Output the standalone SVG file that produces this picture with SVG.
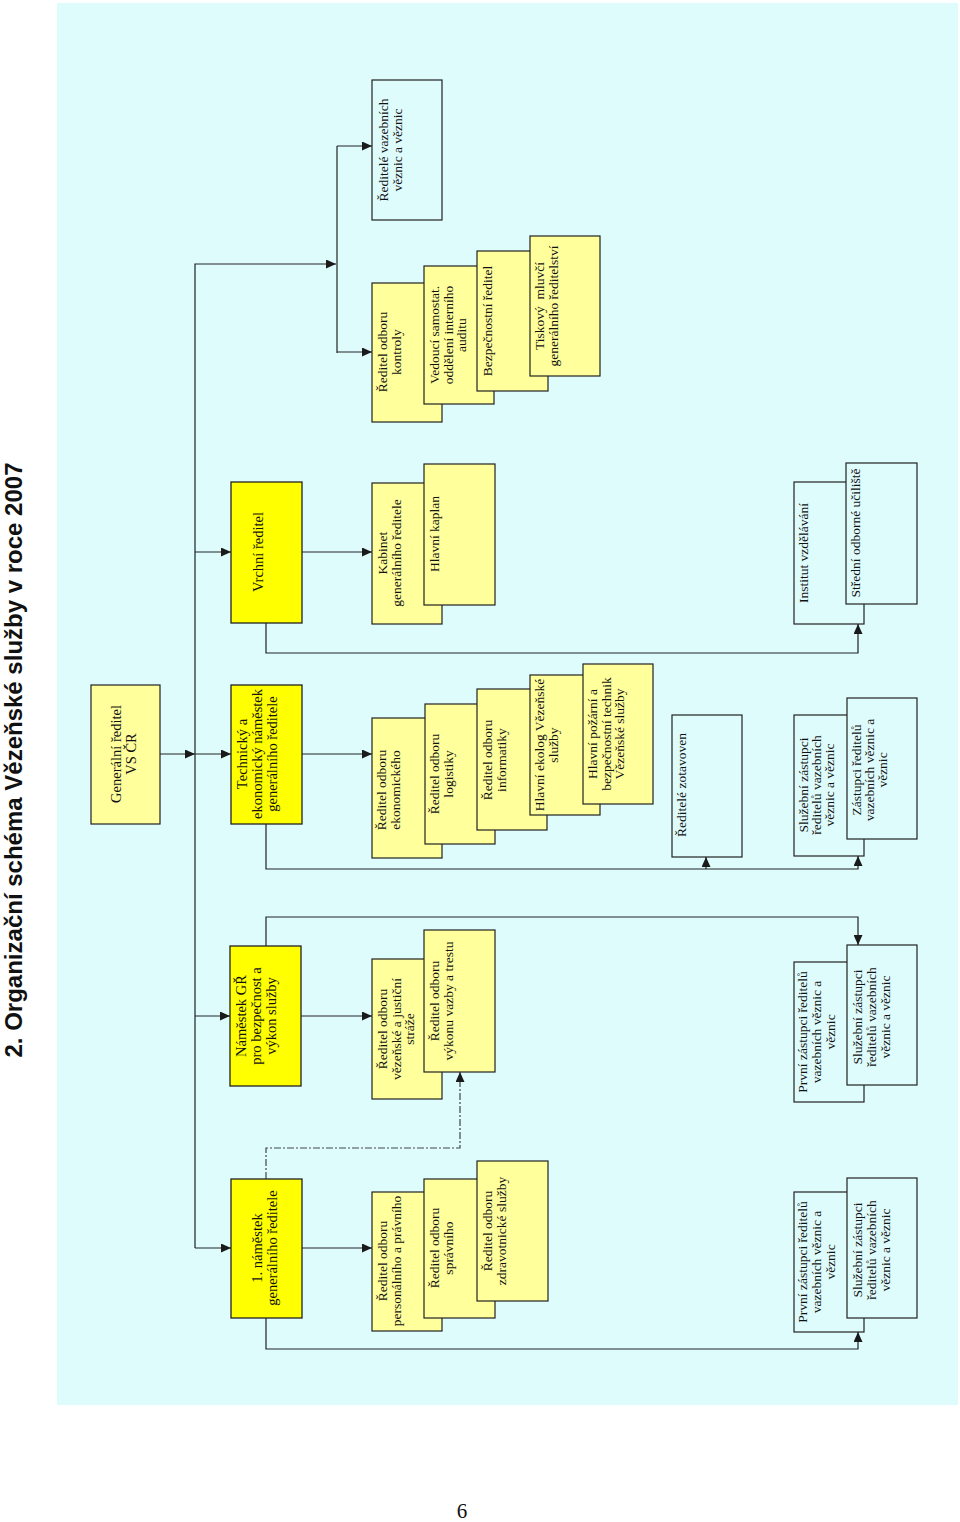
<svg xmlns="http://www.w3.org/2000/svg" width="960" height="1522" viewBox="0 0 960 1522">
<defs>
<marker id="ah" markerUnits="userSpaceOnUse" markerWidth="11" markerHeight="9" refX="10" refY="4.5" orient="auto">
<path d="M0,0 L10,4.5 L0,9 Z" fill="#1a1a1a"/>
</marker>
<style>
.bg{fill:#dffcfc}
.yb{fill:#ffff00;stroke:#222;stroke-width:1.3}
.ly{fill:#ffff9c;stroke:#222;stroke-width:1.2}
.wb{fill:#dffcfc;stroke:#222;stroke-width:1.2}
.mt{font-family:"Liberation Serif","Times New Roman",serif;font-size:14.5px;fill:#111;text-anchor:middle}
.st{font-family:"Liberation Serif","Times New Roman",serif;font-size:13.5px;fill:#111;text-anchor:middle}
.ln{fill:none;stroke:#222;stroke-width:1.2}
.ar{fill:none;stroke:#222;stroke-width:1.2;marker-end:url(#ah)}
.da{fill:none;stroke:#444;stroke-width:1.2;stroke-dasharray:7 2 2 2;marker-end:url(#ah)}
</style>
</defs>
<rect width="960" height="1522" fill="#ffffff"/>
<rect class="bg" x="57" y="3" width="901" height="1402"/>
<text transform="translate(22,760) rotate(-90)" font-family="'Liberation Sans',Arial,sans-serif" font-weight="bold" font-size="24" text-anchor="middle" fill="#111">2. Organizační schéma Vězeňské služby v roce 2007</text>
<text x="462" y="1518" font-family="'Liberation Serif','Times New Roman',serif" font-size="21" text-anchor="middle" fill="#111">6</text>

<g id="connectors">
<path class="ar" d="M160,754 H195"/>
<path class="ar" d="M195,1248 V264 H336"/>
<path class="ln" d="M337,146 V353"/>
<path class="ar" d="M337,146 H372"/>
<path class="ar" d="M337,352 H372"/>
<path class="ar" d="M195,552 H231"/>
<path class="ar" d="M195,754 H231"/>
<path class="ar" d="M195,1016 H230"/>
<path class="ar" d="M195,1248 H231"/>
<path class="ar" d="M302,552 H372"/>
<path class="ar" d="M302,754 H372"/>
<path class="ar" d="M301,1016 H372"/>
<path class="ar" d="M302,1248 H372"/>
<path class="ar" d="M266,623 V653 H858 V624"/>
<path class="ar" d="M266,824 V869 H858 V856"/>
<path class="ar" d="M706,869 V857"/>
<path class="ar" d="M266,946 V917 H858 V945"/>
<path class="ar" d="M266,1318 V1349 H858 V1332"/>
<path class="da" d="M266,1179 V1148 H460 V1072"/>
</g>

<g id="n-gen"><rect class="ly" x="91" y="685" width="69" height="139"/>
<text class="mt" transform="translate(121,754) rotate(-90)"><tspan x="0" y="0">Generální ředitel</tspan><tspan x="0" dy="14.5">VS ČR</tspan></text></g>
<g id="n-vrchni"><rect class="yb" x="231" y="482" width="71" height="141"/>
<text class="mt" transform="translate(263,552) rotate(-90)"><tspan x="0" y="0">Vrchní ředitel</tspan></text></g>
<g id="n-tech"><rect class="yb" x="231" y="685" width="71" height="139"/>
<text class="mt" transform="translate(247,754) rotate(-90)"><tspan x="0" y="0">Technický a</tspan><tspan x="0" dy="15">ekonomický náměstek</tspan><tspan x="0" dy="15">generálního ředitele</tspan></text></g>
<g id="n-nam"><rect class="yb" x="230" y="946" width="71" height="140"/>
<text class="mt" transform="translate(246,1016) rotate(-90)"><tspan x="0" y="0">Náměstek GŘ</tspan><tspan x="0" dy="15">pro bezpečnost a</tspan><tspan x="0" dy="15">výkon služby</tspan></text></g>
<g id="n-nam1"><rect class="yb" x="231" y="1179" width="71" height="139"/>
<text class="mt" transform="translate(262,1248) rotate(-90)"><tspan x="0" y="0">1. náměstek</tspan><tspan x="0" dy="15">generálního ředitele</tspan></text></g>

<g id="n-vazebni"><rect class="wb" x="372" y="80" width="70" height="140"/>
<text class="st" transform="translate(388,150) rotate(-90)"><tspan x="0" y="0">Ředitelé vazebních</tspan><tspan x="0" dy="13.5">věznic a věznic</tspan></text></g>
<g id="n-kontroly"><rect class="ly" x="372" y="283" width="70" height="139"/>
<text class="st" transform="translate(387,352) rotate(-90)"><tspan x="0" y="0">Ředitel odboru</tspan><tspan x="0" dy="13.5">kontroly</tspan></text></g>
<g id="n-audit"><rect class="ly" x="424" y="266" width="70" height="138"/>
<text class="st" transform="translate(439,335) rotate(-90)"><tspan x="0" y="0">Vedoucí samostat.</tspan><tspan x="0" dy="13.5">oddělení interního</tspan><tspan x="0" dy="13.5">auditu</tspan></text></g>
<g id="n-bezp"><rect class="ly" x="477" y="251" width="71" height="140"/>
<text class="st" transform="translate(492,321) rotate(-90)"><tspan x="0" y="0">Bezpečnostní ředitel</tspan></text></g>
<g id="n-tisk"><rect class="ly" x="530" y="236" width="70" height="140"/>
<text class="st" transform="translate(544,306) rotate(-90)" xml:space="preserve"><tspan x="0" y="0">Tiskový  mluvčí</tspan><tspan x="0" dy="13.5">generálního ředitelství</tspan></text></g>

<g id="n-kabinet"><rect class="ly" x="372" y="483" width="70" height="141"/>
<text class="st" transform="translate(387,553) rotate(-90)"><tspan x="0" y="0">Kabinet</tspan><tspan x="0" dy="13.5">generálního ředitele</tspan></text></g>
<g id="n-kaplan"><rect class="ly" x="424" y="464" width="71" height="141"/>
<text class="st" transform="translate(439,534) rotate(-90)"><tspan x="0" y="0">Hlavní kaplan</tspan></text></g>

<g id="n-ekon"><rect class="ly" x="372" y="718" width="70" height="140"/>
<text class="st" transform="translate(386,790) rotate(-90)"><tspan x="0" y="0">Ředitel odboru</tspan><tspan x="0" dy="13.5">ekonomického</tspan></text></g>
<g id="n-logist"><rect class="ly" x="425" y="704" width="70" height="140"/>
<text class="st" transform="translate(439,774) rotate(-90)"><tspan x="0" y="0">Ředitel odboru</tspan><tspan x="0" dy="13.5">logistiky</tspan></text></g>
<g id="n-inform"><rect class="ly" x="477" y="689" width="70" height="141"/>
<text class="st" transform="translate(492,760) rotate(-90)"><tspan x="0" y="0">Ředitel odboru</tspan><tspan x="0" dy="13.5">informatiky</tspan></text></g>
<g id="n-ekolog"><rect class="ly" x="530" y="675" width="70" height="140"/>
<text class="st" transform="translate(544,745) rotate(-90)"><tspan x="0" y="0">Hlavní ekolog Vězeňské</tspan><tspan x="0" dy="13.5">služby</tspan></text></g>
<g id="n-pozar"><rect class="ly" x="583" y="664" width="70" height="140"/>
<text class="st" transform="translate(597,734) rotate(-90)"><tspan x="0" y="0">Hlavní požární a</tspan><tspan x="0" dy="13.5">bezpečnostní technik</tspan><tspan x="0" dy="13.5">Vězeňské služby</tspan></text></g>

<g id="n-straz"><rect class="ly" x="372" y="959" width="70" height="140"/>
<text class="st" transform="translate(387,1029) rotate(-90)"><tspan x="0" y="0">Ředitel odboru</tspan><tspan x="0" dy="13.5">vězeňské a justiční</tspan><tspan x="0" dy="13.5">stráže</tspan></text></g>
<g id="n-vazba"><rect class="ly" x="424" y="930" width="71" height="142"/>
<text class="st" transform="translate(439,1001) rotate(-90)"><tspan x="0" y="0">Ředitel odboru</tspan><tspan x="0" dy="13.5">výkonu vazby a trestu</tspan></text></g>

<g id="n-person"><rect class="ly" x="372" y="1192" width="70" height="139"/>
<text class="st" transform="translate(387,1261) rotate(-90)"><tspan x="0" y="0">Ředitel odboru</tspan><tspan x="0" dy="13.5">personálního a právního</tspan></text></g>
<g id="n-sprav"><rect class="ly" x="424" y="1179" width="71" height="139"/>
<text class="st" transform="translate(439,1248) rotate(-90)"><tspan x="0" y="0">Ředitel odboru</tspan><tspan x="0" dy="13.5">správního</tspan></text></g>
<g id="n-zdrav"><rect class="ly" x="477" y="1161" width="71" height="140"/>
<text class="st" transform="translate(492,1231) rotate(-90)"><tspan x="0" y="0">Ředitel odboru</tspan><tspan x="0" dy="13.5">zdravotnické služby</tspan></text></g>

<g id="n-zotav"><rect class="wb" x="672" y="715" width="70" height="142"/>
<text class="st" transform="translate(686,785) rotate(-90)"><tspan x="0" y="0">Ředitelé zotavoven</tspan></text></g>
<g id="n-institut"><rect class="wb" x="794" y="482" width="70" height="142"/>
<text class="st" transform="translate(808,553) rotate(-90)"><tspan x="0" y="0">Institut vzdělávání</tspan></text></g>
<g id="n-stredni"><rect class="wb" x="846" y="463" width="71" height="141"/>
<text class="st" transform="translate(860,533) rotate(-90)"><tspan x="0" y="0">Střední odborné učiliště</tspan></text></g>

<g id="n-sluz1"><rect class="wb" x="794" y="715" width="70" height="141"/>
<text class="st" transform="translate(808,785) rotate(-90)"><tspan x="0" y="0">Služební zástupci</tspan><tspan x="0" dy="13">ředitelů vazebních</tspan><tspan x="0" dy="13">věznic a věznic</tspan></text></g>
<g id="n-zast"><rect class="wb" x="847" y="698" width="70" height="141"/>
<text class="st" transform="translate(861,770) rotate(-90)"><tspan x="0" y="0">Zástupci ředitelů</tspan><tspan x="0" dy="13">vazebních věznic a</tspan><tspan x="0" dy="13">věznic</tspan></text></g>

<g id="n-prvni1"><rect class="wb" x="794" y="962" width="70" height="140"/>
<text class="st" transform="translate(807,1032) rotate(-90)"><tspan x="0" y="0">První zástupci ředitelů</tspan><tspan x="0" dy="14">vazebních věznic a</tspan><tspan x="0" dy="14">věznic</tspan></text></g>
<g id="n-sluz2"><rect class="wb" x="847" y="945" width="70" height="140"/>
<text class="st" transform="translate(862,1017) rotate(-90)"><tspan x="0" y="0">Služební zástupci</tspan><tspan x="0" dy="14">ředitelů vazebních</tspan><tspan x="0" dy="14">věznic a věznic</tspan></text></g>

<g id="n-prvni2"><rect class="wb" x="794" y="1192" width="70" height="140"/>
<text class="st" transform="translate(807,1262) rotate(-90)"><tspan x="0" y="0">První zástupci ředitelů</tspan><tspan x="0" dy="14">vazebních věznic a</tspan><tspan x="0" dy="14">věznic</tspan></text></g>
<g id="n-sluz3"><rect class="wb" x="847" y="1178" width="70" height="140"/>
<text class="st" transform="translate(862,1250) rotate(-90)"><tspan x="0" y="0">Služební zástupci</tspan><tspan x="0" dy="14">ředitelů vazebních</tspan><tspan x="0" dy="14">věznic a věznic</tspan></text></g>
</svg>
